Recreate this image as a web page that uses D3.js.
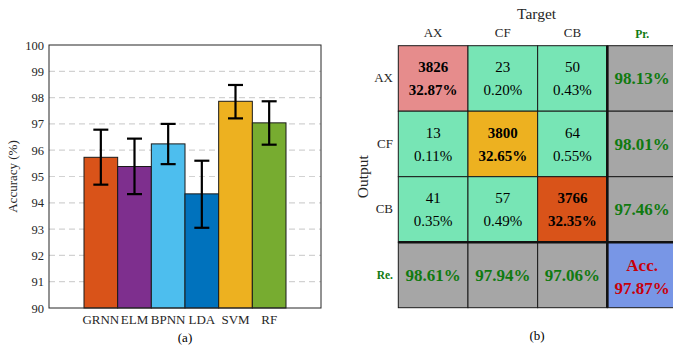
<!DOCTYPE html>
<html>
<head>
<meta charset="utf-8">
<script src="https://cdn.jsdelivr.net/npm/d3@7"></script>
<style>
  body { margin: 0; background: #fff; }
  svg text { font-family: "Liberation Serif", "Times New Roman", Times, "DejaVu Serif", serif !important; }
</style>
</head>
<body>
<svg id="chart" width="673" height="350"></svg>
<script>
// (a) accuracy bars
const models = ['GRNN', 'ELM', 'BPNN', 'LDA', 'SVM', 'RF'];
const accuracy = [95.73, 95.38, 96.24, 94.34, 97.86, 97.04];
const errLow = [94.69, 94.33, 95.47, 93.05, 97.21, 96.21];
const errHigh = [96.78, 96.44, 97.0, 95.6, 98.48, 97.86];
const barColors = ['#D95319', '#7E2F8E', '#4DBEEE', '#0072BD', '#EDB120', '#77AC30'];
const yTicks = [90, 91, 92, 93, 94, 95, 96, 97, 98, 99, 100];

// (b) confusion matrix
const classes = ['AX', 'CF', 'CB'];
const counts = [[3826, 23, 50], [13, 3800, 64], [41, 57, 3766]];
const shares = [[32.87, 0.20, 0.43], [0.11, 32.65, 0.55], [0.35, 0.49, 32.35]];
const precision = [98.13, 98.01, 97.46];
const recall = [98.61, 97.94, 97.06];
const overall = 97.87;
const diagColors = ['#E68C8C', '#EDB120', '#D95319'];

const svg = d3.select('#chart');

/* ---------- left panel ---------- */
const box = {left: 49, right: 321, top: 45, bottom: 308};
const y = d3.scaleLinear().domain([90, 100]).range([box.bottom, box.top]);
const x = d3.scaleBand().domain(models).range([84, 286]).padding(0);

const a = svg.append('g');

// dashed grid
a.selectAll('line.grid')
  .data(yTicks.slice(1, -1))
  .join('line')
  .attr('x1', box.left).attr('x2', box.right)
  .attr('y1', d => y(d)).attr('y2', d => y(d))
  .attr('stroke', '#d2d2d2').attr('stroke-width', 1.2)
  .attr('stroke-dasharray', '6,4');

a.selectAll('rect.bar')
  .data(models)
  .join('rect')
  .attr('x', d => x(d))
  .attr('y', (d, i) => y(accuracy[i]))
  .attr('width', x.bandwidth())
  .attr('height', (d, i) => y(90) - y(accuracy[i]))
  .attr('fill', (d, i) => barColors[i])
  .attr('stroke', '#1a1a1a').attr('stroke-width', 1);

// error bars
const eb = a.selectAll('g.err').data(models).join('g')
  .attr('transform', d => `translate(${x(d) + x.bandwidth() / 2},0)`)
  .attr('stroke', '#000').attr('stroke-width', 2.2);
eb.append('line').attr('y1', (d, i) => y(errLow[i])).attr('y2', (d, i) => y(errHigh[i]));
eb.append('line').attr('x1', -7.5).attr('x2', 7.5)
  .attr('y1', (d, i) => y(errLow[i])).attr('y2', (d, i) => y(errLow[i]));
eb.append('line').attr('x1', -7.5).attr('x2', 7.5)
  .attr('y1', (d, i) => y(errHigh[i])).attr('y2', (d, i) => y(errHigh[i]));

// frame
a.append('rect')
  .attr('x', box.left).attr('y', box.top)
  .attr('width', box.right - box.left).attr('height', box.bottom - box.top)
  .attr('fill', 'none').attr('stroke', '#262626').attr('stroke-width', 1);

const yAxis = a.append('g')
  .attr('transform', `translate(${box.left},0)`)
  .call(d3.axisLeft(y).tickValues(yTicks).tickSize(0).tickPadding(5));
yAxis.select('.domain').remove();
yAxis.selectAll('text').attr('font-size', 12.5).attr('fill', '#262626');

const xAxis = a.append('g')
  .attr('transform', `translate(0,${box.bottom})`)
  .call(d3.axisBottom(x).tickSize(0).tickPadding(7));
xAxis.select('.domain').remove();
xAxis.selectAll('text').attr('font-size', 13).attr('fill', '#262626');

a.append('text')
  .attr('transform', `translate(17,${(box.top + box.bottom) / 2}) rotate(-90)`)
  .attr('text-anchor', 'middle').attr('font-size', 13).attr('fill', '#262626')
  .text('Accuracy (%)');

a.append('text')
  .attr('x', 185).attr('y', 342).attr('text-anchor', 'middle').attr('font-size', 13)
  .text('(a)');

/* ---------- right panel ---------- */
const cols = classes.concat(['Pr.']);
const rows = classes.concat(['Re.']);
const cx = d3.scaleBand().domain(cols).range([398.3, 677]);
const cy = d3.scaleBand().domain(rows).range([45.7, 307.7]);
const cw = cx.bandwidth(), ch = cy.bandwidth();
const green = '#107A10', red = '#C8000A';

const b = svg.append('g');

const cells = [];
rows.forEach((r, i) => cols.forEach((c, j) => cells.push({r, c, i, j})));

function cellFill(d) {
  if (d.i < 3 && d.j < 3) return d.i === d.j ? diagColors[d.i] : '#77E5B5';
  if (d.i === 3 && d.j === 3) return '#7896E6';
  return '#A6A6A6';
}

b.selectAll('rect.cell')
  .data(cells)
  .join('rect')
  .attr('x', d => cx(d.c)).attr('y', d => cy(d.r))
  .attr('width', cw).attr('height', ch)
  .attr('fill', cellFill)
  .attr('stroke', '#1a1a1a').attr('stroke-width', 1);

// thick separators
b.append('line')
  .attr('x1', cx('Pr.')).attr('x2', cx('Pr.'))
  .attr('y1', cy('AX')).attr('y2', cy('Re.') + ch)
  .attr('stroke', '#111').attr('stroke-width', 2.6);
b.append('line')
  .attr('x1', cx('AX')).attr('x2', 677)
  .attr('y1', cy('Re.')).attr('y2', cy('Re.'))
  .attr('stroke', '#111').attr('stroke-width', 2.6);

// inner confusion values
cells.filter(d => d.i < 3 && d.j < 3).forEach(d => {
  const diag = d.i === d.j;
  const t = b.append('text')
    .attr('text-anchor', 'middle')
    .attr('font-size', 15)
    .attr('font-weight', diag ? 'bold' : 'normal')
    .attr('fill', '#000');
  t.append('tspan').attr('x', cx(d.c) + cw / 2).attr('y', cy(d.r) + ch / 2 - 6)
    .text(counts[d.i][d.j]);
  t.append('tspan').attr('x', cx(d.c) + cw / 2).attr('y', cy(d.r) + ch / 2 + 17)
    .text(shares[d.i][d.j].toFixed(2) + '%');
});

// precision column
b.selectAll('text.pr')
  .data(precision)
  .join('text')
  .attr('x', cx('Pr.') + cw / 2)
  .attr('y', (d, i) => cy(classes[i]) + ch / 2 + 6)
  .attr('text-anchor', 'middle').attr('font-size', 17).attr('font-weight', 'bold')
  .attr('fill', green)
  .text(d => d.toFixed(2) + '%');

// recall row
b.selectAll('text.re')
  .data(recall)
  .join('text')
  .attr('x', (d, i) => cx(classes[i]) + cw / 2)
  .attr('y', cy('Re.') + ch / 2 + 6)
  .attr('text-anchor', 'middle').attr('font-size', 17).attr('font-weight', 'bold')
  .attr('fill', green)
  .text(d => d.toFixed(2) + '%');

// overall accuracy
const acc = b.append('text')
  .attr('text-anchor', 'middle').attr('font-size', 17).attr('font-weight', 'bold')
  .attr('fill', red);
acc.append('tspan').attr('x', cx('Pr.') + cw / 2).attr('y', cy('Re.') + ch / 2 - 4).text('Acc.');
acc.append('tspan').attr('x', cx('Pr.') + cw / 2).attr('y', cy('Re.') + ch / 2 + 19)
  .text(overall.toFixed(2) + '%');

// labels
b.selectAll('text.col')
  .data(cols)
  .join('text')
  .attr('x', d => cx(d) + cw / 2).attr('y', d => d === 'Pr.' ? 38 : 37)
  .attr('text-anchor', 'middle')
  .attr('font-size', d => d === 'Pr.' ? 11.5 : 13)
  .attr('font-weight', d => d === 'Pr.' ? 'bold' : 'normal')
  .attr('fill', d => d === 'Pr.' ? green : '#262626')
  .text(d => d);

b.selectAll('text.row')
  .data(rows)
  .join('text')
  .attr('x', 393).attr('y', d => cy(d) + ch / 2 + 4)
  .attr('text-anchor', 'end')
  .attr('font-size', d => d === 'Re.' ? 11.5 : 13)
  .attr('font-weight', d => d === 'Re.' ? 'bold' : 'normal')
  .attr('fill', d => d === 'Re.' ? green : '#262626')
  .text(d => d);

b.append('text')
  .attr('x', (cx('AX') + 677) / 2 - 1).attr('y', 19)
  .attr('text-anchor', 'middle').attr('font-size', 15.5).attr('fill', '#262626')
  .text('Target');

b.append('text')
  .attr('transform', `translate(368,${(cy('AX') + cy('Re.') + ch) / 2}) rotate(-90)`)
  .attr('text-anchor', 'middle').attr('font-size', 15.5).attr('fill', '#262626')
  .text('Output');

b.append('text')
  .attr('x', 537).attr('y', 340).attr('text-anchor', 'middle').attr('font-size', 13)
  .text('(b)');
</script>
</body>
</html>
